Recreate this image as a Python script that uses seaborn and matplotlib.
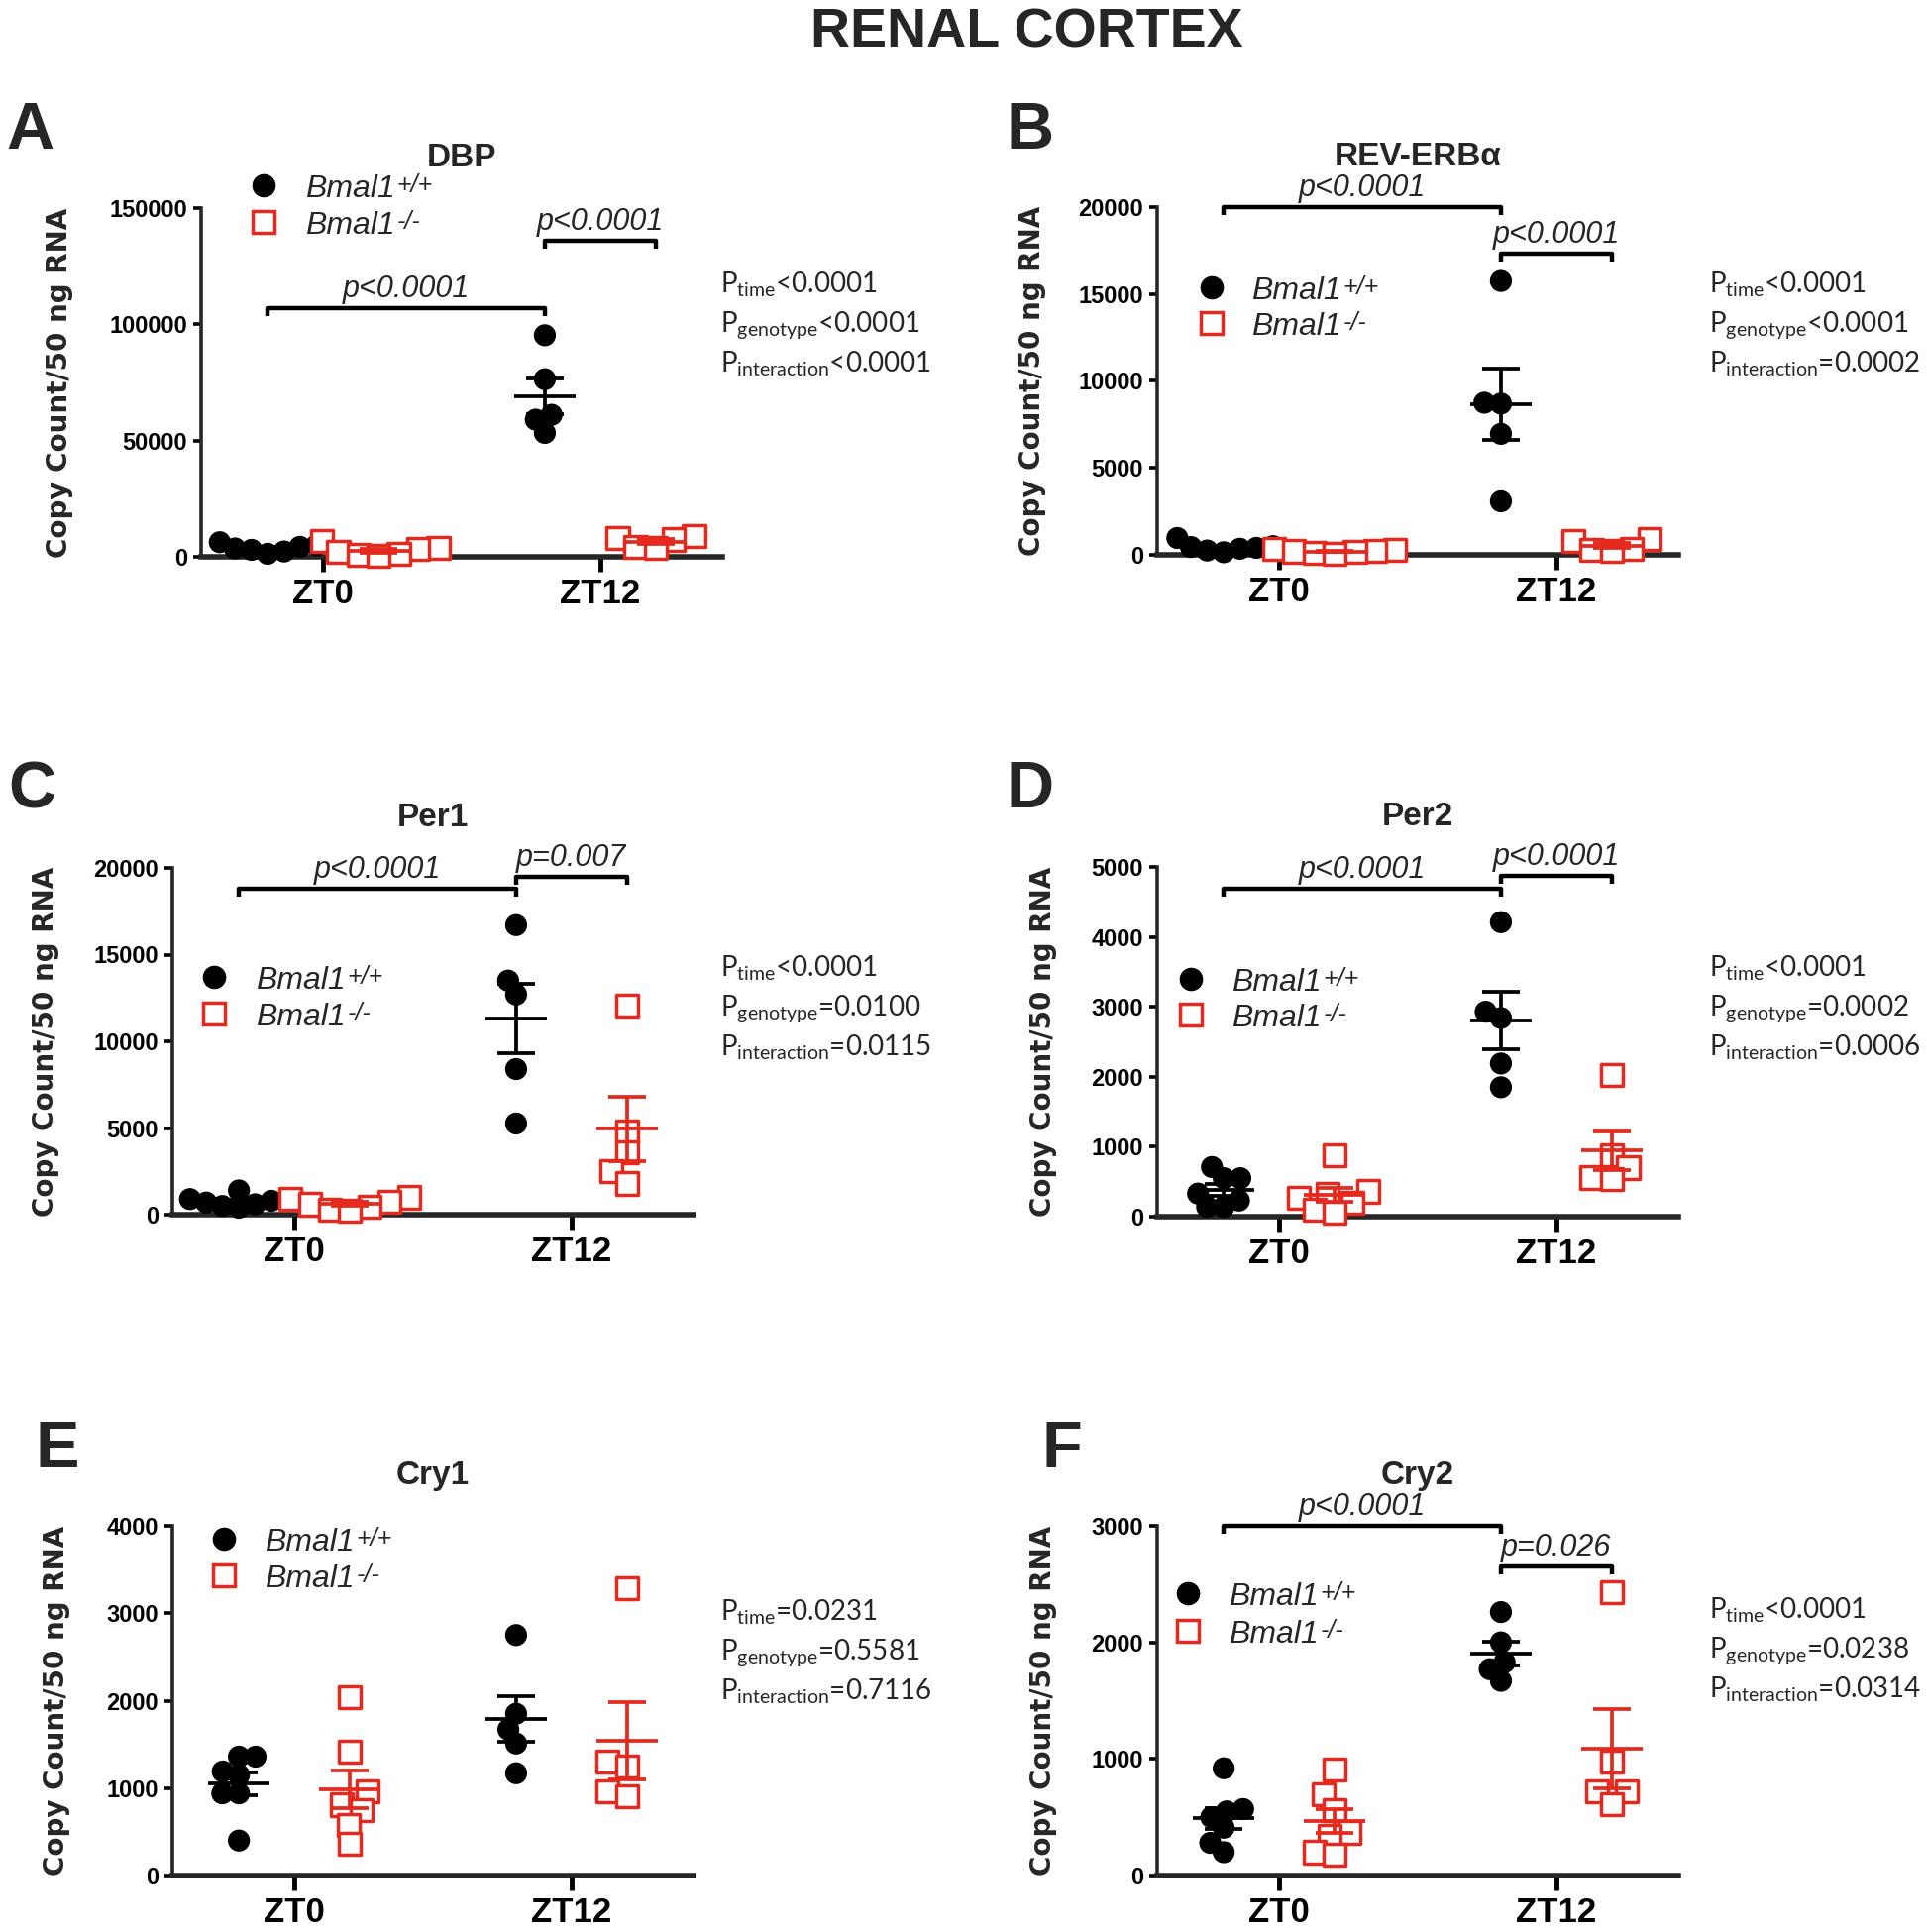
import numpy as np
import pandas as pd
import matplotlib
matplotlib.use("Agg")
import matplotlib.pyplot as plt
import seaborn as sns
from matplotlib.lines import Line2D

# ---------------- data ----------------
times = ["ZT0", "ZT12"]
genotypes = ["WT", "KO"]
genotype_names = ["Bmal1", "Bmal1"]
genotype_sups = ["+/+", "-/-"]
genes = ["DBP", "REV-ERBα", "Per1", "Per2", "Cry1", "Cry2"]
panel_letters = ["A", "B", "C", "D", "E", "F"]

dbp_wt_zt0 = [6300, 5000, 4300, 3600, 3000, 2300, 1300]
dbp_ko_zt0 = [6800, 4000, 3500, 2000, 1200, 800, 500]
dbp_wt_zt12 = [95300, 76400, 61100, 59000, 53300]
dbp_ko_zt12 = [9000, 8200, 7500, 4300, 4000]

rev_wt_zt0 = [970, 500, 450, 400, 350, 250, 150]
rev_ko_zt0 = [320, 280, 250, 200, 150, 100, 60]
rev_wt_zt12 = [15750, 8750, 8700, 6960, 3080]
rev_ko_zt12 = [900, 800, 350, 300, 250]

per1_wt_zt0 = [1400, 900, 800, 700, 600, 500, 400]
per1_ko_zt0 = [1000, 900, 750, 600, 450, 300, 250]
per1_wt_zt12 = [16700, 13500, 12700, 8400, 5260]
per1_ko_zt12 = [12040, 4800, 3600, 2500, 1800]

per2_wt_zt0 = [550, 710, 550, 330, 230, 140, 140]
per2_ko_zt0 = [880, 360, 320, 270, 200, 100, 60]
per2_wt_zt12 = [4210, 2930, 2840, 2190, 1850]
per2_ko_zt12 = [2030, 880, 700, 560, 540]

cry1_wt_zt0 = [1360, 1360, 1190, 1150, 940, 940, 400]
cry1_ko_zt0 = [2040, 1420, 960, 810, 750, 580, 360]
cry1_wt_zt12 = [2750, 1850, 1670, 1510, 1170]
cry1_ko_zt12 = [3290, 1300, 1250, 960, 910]

cry2_wt_zt0 = [920, 570, 550, 500, 410, 280, 200]
cry2_ko_zt0 = [910, 700, 560, 370, 340, 200, 180]
cry2_wt_zt12 = [2260, 2000, 1830, 1770, 1670]
cry2_ko_zt12 = [2430, 980, 720, 720, 610]

y_ticks = [
    [0, 50000, 100000, 150000],
    [0, 5000, 10000, 15000, 20000],
    [0, 5000, 10000, 15000, 20000],
    [0, 1000, 2000, 3000, 4000, 5000],
    [0, 1000, 2000, 3000, 4000],
    [0, 1000, 2000, 3000],
]

# two-way ANOVA results
p_time = ["<0.0001", "<0.0001", "<0.0001", "<0.0001", "=0.0231", "<0.0001"]
p_genotype = ["<0.0001", "<0.0001", "=0.0100", "=0.0002", "=0.5581", "=0.0238"]
p_interaction = ["<0.0001", "=0.0002", "=0.0115", "=0.0006", "=0.7116", "=0.0314"]

# post-hoc comparisons: (group1, group2, y-level, label)
brackets = [
    [(("ZT0", "WT"), ("ZT12", "WT"), 107000, "p<0.0001"),
     (("ZT12", "WT"), ("ZT12", "KO"), 136000, "p<0.0001")],
    [(("ZT0", "WT"), ("ZT12", "WT"), 20000, "p<0.0001"),
     (("ZT12", "WT"), ("ZT12", "KO"), 17300, "p<0.0001")],
    [(("ZT0", "WT"), ("ZT12", "WT"), 18800, "p<0.0001"),
     (("ZT12", "WT"), ("ZT12", "KO"), 19500, "p=0.007")],
    [(("ZT0", "WT"), ("ZT12", "WT"), 4690, "p<0.0001"),
     (("ZT12", "WT"), ("ZT12", "KO"), 4870, "p<0.0001")],
    [],
    [(("ZT0", "WT"), ("ZT12", "WT"), 3000, "p<0.0001"),
     (("ZT12", "WT"), ("ZT12", "KO"), 2650, "p=0.026")],
]

all_values = [
    (dbp_wt_zt0, dbp_ko_zt0, dbp_wt_zt12, dbp_ko_zt12),
    (rev_wt_zt0, rev_ko_zt0, rev_wt_zt12, rev_ko_zt12),
    (per1_wt_zt0, per1_ko_zt0, per1_wt_zt12, per1_ko_zt12),
    (per2_wt_zt0, per2_ko_zt0, per2_wt_zt12, per2_ko_zt12),
    (cry1_wt_zt0, cry1_ko_zt0, cry1_wt_zt12, cry1_ko_zt12),
    (cry2_wt_zt0, cry2_ko_zt0, cry2_wt_zt12, cry2_ko_zt12),
]


def make_frame(vals):
    wt0, ko0, wt12, ko12 = vals
    rows = []
    for t, g, v in [("ZT0", "WT", wt0), ("ZT0", "KO", ko0),
                    ("ZT12", "WT", wt12), ("ZT12", "KO", ko12)]:
        for x in v:
            rows.append({"time": t, "genotype": g, "value": x})
    return pd.DataFrame(rows)


# ---------------- style / layout ----------------
sns.set_theme(style="ticks")
plt.rcParams["font.family"] = ["Liberation Sans", "DejaVu Sans"]

RED = "#E42A1F"
W, H = 1945, 1950
DODGE = 0.2          # seaborn dodge offset for two hue levels
LAYOUT_SIZE = 11.5   # marker size used to lay out the swarm (allows Prism-like overlap)
CIRCLE_SIZE = 16
SQUARE_SIZE = 16


def fx(x):
    return x / W


def fy(y):
    return 1 - y / H


bold_sans = dict(family=["Liberation Sans", "DejaVu Sans"], weight="bold")
it_sans = dict(family=["Liberation Sans", "DejaVu Sans"], style="italic")

# axes rectangles in pixels: left, top, right, bottom
rects = [
    (203, 210, 729, 562),
    (1168, 209, 1694, 560),
    (174, 876, 700, 1226),
    (1168, 875, 1694, 1228),
    (174, 1540, 700, 1893),
    (1168, 1540, 1694, 1893),
]
letter_pos = [(6, 150), (1015, 150), (8, 815), (1015, 815), (36, 1481), (1051, 1481)]
ylabel_x = [60, 1042, 46, 1053, 57, 1053]
stats_pos = [(727, 295), (1725, 295), (727, 985), (1725, 985), (727, 1635), (1725, 1633)]
legend_pos = [  # marker x, row1 y, row2 y, text x
    (266, 187, 224, 308),
    (1223, 290, 326, 1263),
    (216, 986, 1023, 258),
    (1202, 988, 1024, 1243),
    (226, 1553, 1590, 267),
    (1199, 1608, 1646, 1240),
]

fig = plt.figure(figsize=(W / 100, H / 100), dpi=100)
fig.text(fx(1036), fy(47), "RENAL CORTEX", ha="center", va="baseline",
         fontsize=40, **bold_sans)

swarm_collections = []

for i in range(6):
    l, t, r, b = rects[i]
    ax = fig.add_axes([fx(l), fy(b), (r - l) / W, (b - t) / H])
    df = make_frame(all_values[i])
    ymax = y_ticks[i][-1]

    for g, marker, kws, final in [
        ("WT", "o", dict(linewidth=0), CIRCLE_SIZE),
        ("KO", "s", dict(edgecolor=RED, linewidth=2.5), SQUARE_SIZE),
    ]:
        before = list(ax.collections)
        sns.swarmplot(data=df[df.genotype == g], x="time", y="value", hue="genotype",
                      order=times, hue_order=genotypes, dodge=True,
                      palette={"WT": "black", "KO": "white"}, marker=marker,
                      size=LAYOUT_SIZE, legend=False, ax=ax, clip_on=False, zorder=3,
                      warn_thresh=1, **kws)
        for c in ax.collections:
            if c in before:
                continue
            if c.get_offsets().shape[0] == 0:
                c.remove()
            else:
                swarm_collections.append((c, final))

    # mean +/- SEM
    stats = df.groupby(["time", "genotype"])["value"].agg(["mean", "std", "count"])
    for ti, tname in enumerate(times):
        for g in genotypes:
            m = stats.loc[(tname, g), "mean"]
            se = stats.loc[(tname, g), "std"] / np.sqrt(stats.loc[(tname, g), "count"])
            xpos = ti + (-DODGE if g == "WT" else DODGE)
            c = "black" if g == "WT" else RED
            ax.errorbar([xpos], [m], yerr=[se], fmt="_", color=c, ecolor=c,
                        markersize=44, mew=2.7, elinewidth=2.7, capsize=13.5,
                        capthick=2.7, zorder=5, clip_on=False)

    ax.set_xlim(-0.44, 1.44)
    ax.set_ylim(0, ymax)
    ax.set_yticks(y_ticks[i])
    ax.set_yticklabels([str(v) for v in y_ticks[i]], fontsize=17, **bold_sans)
    ax.set_xticks([0, 1])
    ax.set_xticklabels(times, fontsize=25, **bold_sans)
    ax.set_xlabel("")
    ax.set_ylabel("Copy Count/50 ng RNA", fontsize=20, fontweight="bold",
                  family=["DejaVu Sans"])
    ax.yaxis.label.set_va("center")
    ax.yaxis.set_label_coords((ylabel_x[i] - l) / (r - l), 0.5)

    for s in ["top", "right"]:
        ax.spines[s].set_visible(False)
    ax.spines["left"].set_linewidth(2.6)
    ax.spines["bottom"].set_linewidth(4)
    ax.tick_params(axis="y", length=6, width=2.6, pad=4, colors="black")
    ax.tick_params(axis="x", length=11, width=3.5, pad=4, colors="black")
    ax.grid(False)
    ax.set_facecolor("white")

    ax.set_title(genes[i], pad=30, fontsize=24, **bold_sans)

    # significance brackets
    depth = ymax * 8 / (b - t)
    for (g1, g2, yb, lab) in brackets[i]:
        x1 = times.index(g1[0]) + (-DODGE if g1[1] == "WT" else DODGE)
        x2 = times.index(g2[0]) + (-DODGE if g2[1] == "WT" else DODGE)
        ax.plot([x1, x1, x2, x2], [yb - depth, yb, yb, yb - depth], color="black",
                lw=3.2, clip_on=False, solid_capstyle="butt", zorder=6)
        ax.annotate(lab, xy=((x1 + x2) / 2, yb), xytext=(0, 3), textcoords="offset points",
                    ha="center", va="bottom", fontsize=22, annotation_clip=False, **it_sans)

    # panel letter
    fig.text(fx(letter_pos[i][0]), fy(letter_pos[i][1]), panel_letters[i], ha="left",
             va="baseline", fontsize=48, **bold_sans)

    # ANOVA stats
    sx, sy = stats_pos[i]
    for k, (name, val) in enumerate([("time", p_time[i]), ("genotype", p_genotype[i]),
                                     ("interaction", p_interaction[i])]):
        fig.text(fx(sx), fy(sy + 40 * k), "P$_{\\mathregular{%s}}$%s" % (name, val),
                 ha="left", va="baseline", fontsize=20, family=["Lato", "DejaVu Sans"])

    # legend keys
    mx, y1, y2, tx = legend_pos[i]
    fig.add_artist(Line2D([fx(mx)], [fy(y1)], marker="o", markersize=16, color="black",
                          linestyle="none", transform=fig.transFigure))
    fig.add_artist(Line2D([fx(mx)], [fy(y2)], marker="s", markersize=15.5,
                          markerfacecolor="white", markeredgecolor=RED, markeredgewidth=2.5,
                          linestyle="none", transform=fig.transFigure))
    for yy, name, sup in [(y1, genotype_names[0], genotype_sups[0]),
                          (y2, genotype_names[1], genotype_sups[1])]:
        txt = fig.text(fx(tx), fy(yy + 12), name, ha="left", va="baseline", fontsize=23,
                       **it_sans)
        ax.annotate(sup, xy=(1, 1), xycoords=txt, xytext=(1.5, 1),
                    textcoords="offset points", ha="left", va="top", fontsize=18,
                    annotation_clip=False, **it_sans)

# lay the swarms out once with the smaller collision size, then freeze and enlarge
fig.canvas.draw()
for c, final in swarm_collections:
    if "draw" in c.__dict__:
        del c.draw
    c.set_sizes([final ** 2])

fig.savefig("out.png", dpi=100, facecolor="white")
